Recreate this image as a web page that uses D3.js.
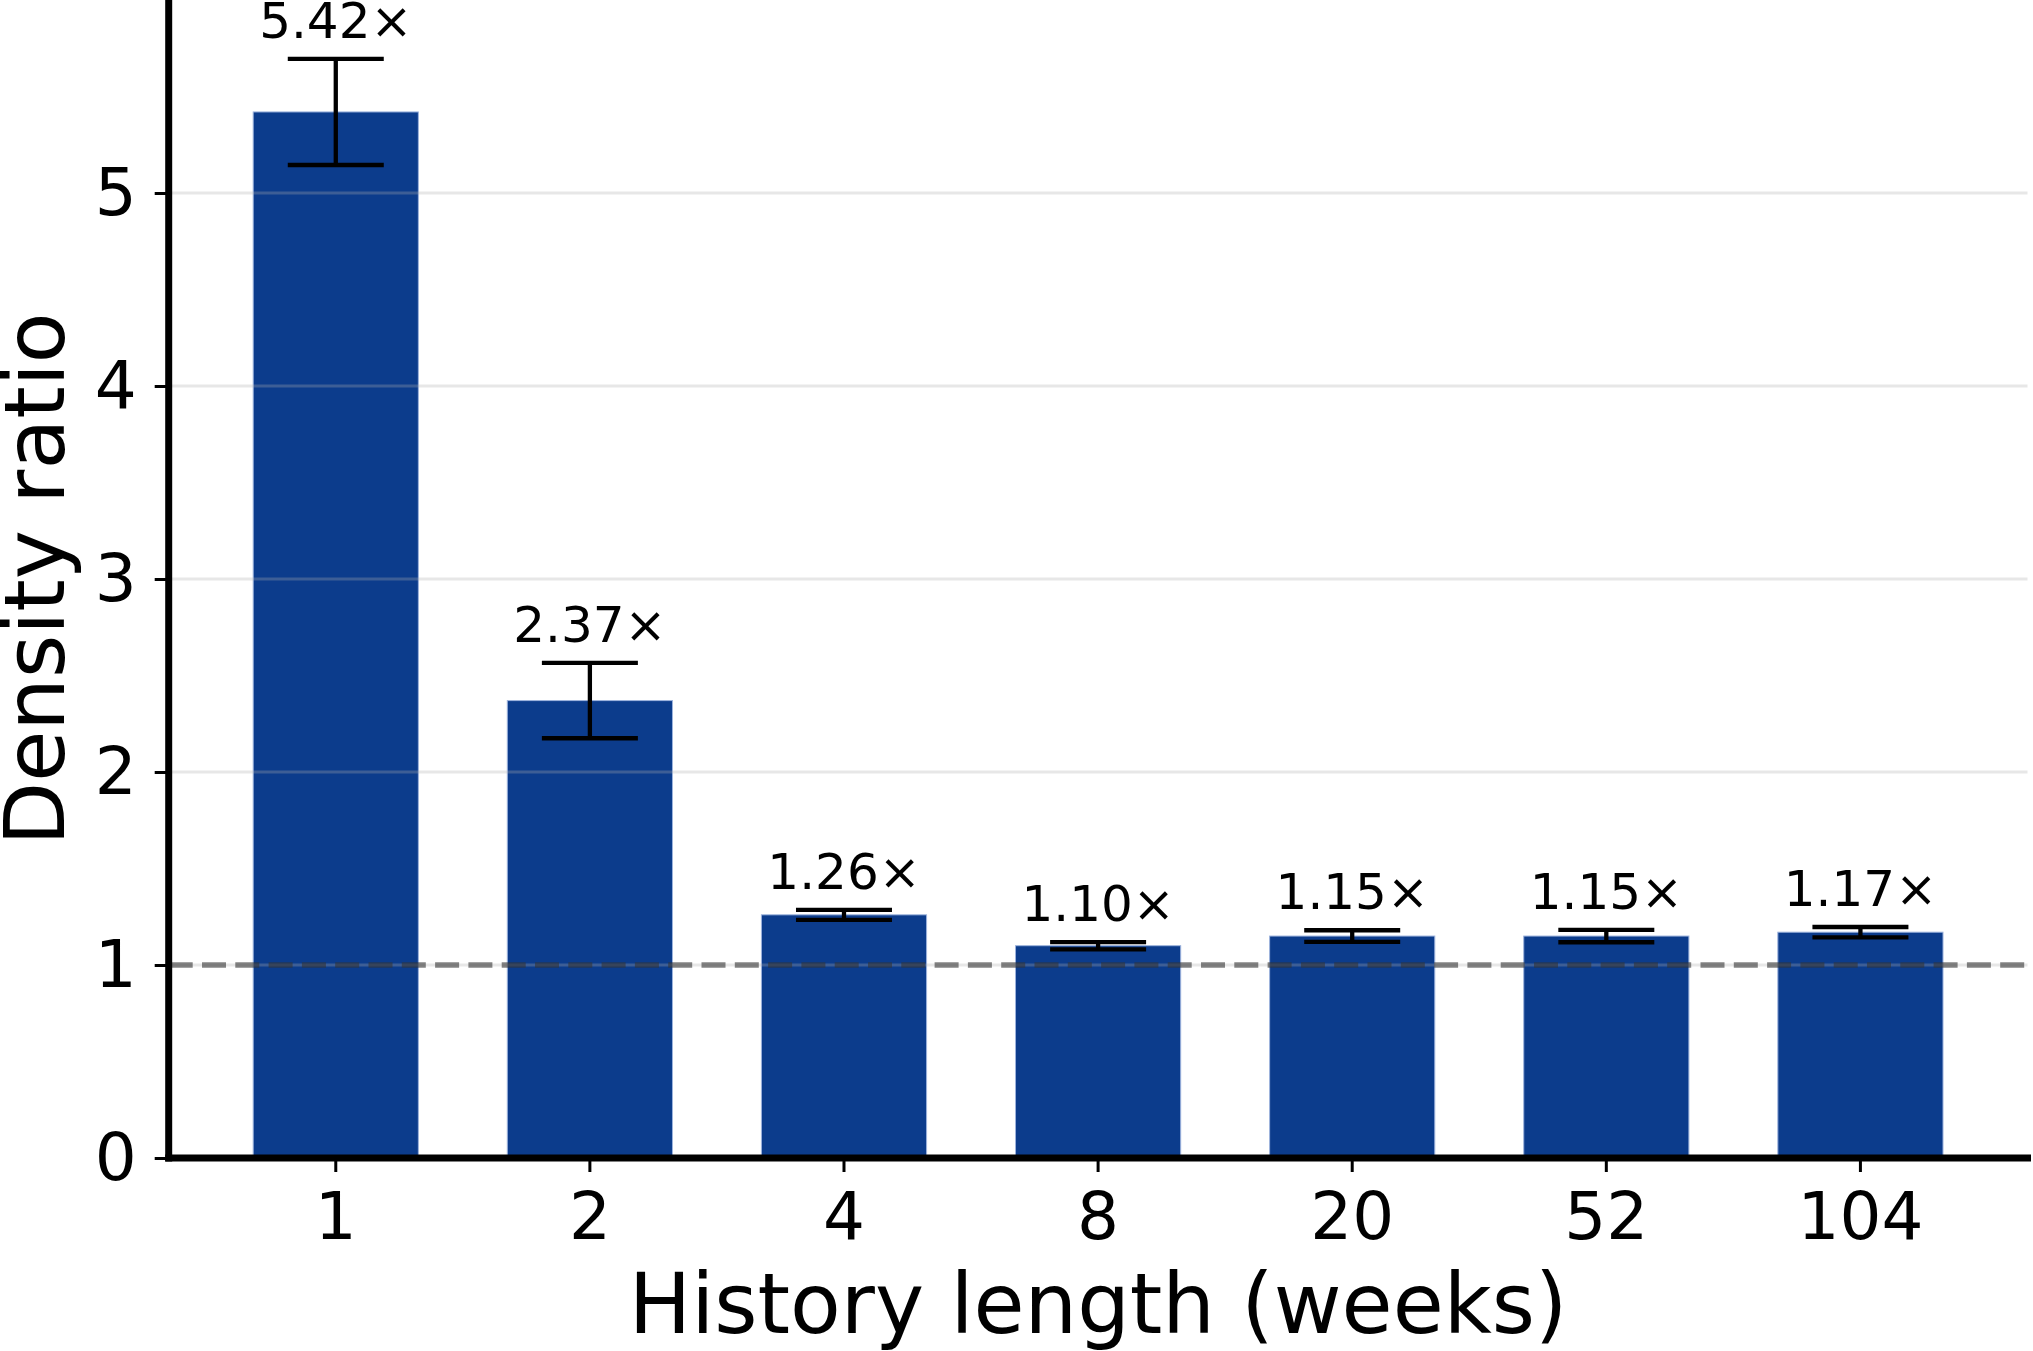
<!DOCTYPE html>
<html>
<head>
<meta charset="utf-8">
<script src="https://cdn.jsdelivr.net/npm/d3@7"></script>
<style>
  body { margin: 0; background: #fff; }
  svg { display: block; font-family: "DejaVu Sans", sans-serif; }
</style>
</head>
<body>
<script>
// history length categories (weeks)
var weeks = ['1', '2', '4', '8', '20', '52', '104'];
// mean density ratio and error half-widths
var ratios = [5.42, 2.37, 1.26, 1.10, 1.15, 1.15, 1.17];
var errors = [0.275, 0.195, 0.026, 0.019, 0.030, 0.032, 0.027];
var yTicks = [0, 1, 2, 3, 4, 5];

var data = weeks.map(function(w, i) {
  return { week: w, ratio: ratios[i], err: errors[i] };
});

var W = 2033, H = 1351;
var plotLeft = 168.7, plotRight = 2027.5, plotBottom = 1158, plotTop = 0;

var svg = d3.select('body').append('svg')
  .attr('width', W)
  .attr('height', H);

var x = d3.scaleBand()
  .domain(weeks)
  .range([plotLeft, plotRight])
  .paddingInner(0.35)
  .paddingOuter(0.3325);

var y = d3.scaleLinear()
  .domain([0, 6])
  .range([plotBottom, plotTop]);

// bars
svg.append('g').selectAll('rect')
  .data(data)
  .enter().append('rect')
  .attr('x', function(d) { return x(d.week); })
  .attr('y', function(d) { return y(d.ratio); })
  .attr('width', x.bandwidth())
  .attr('height', function(d) { return y(0) - y(d.ratio); })
  .attr('fill', '#0c3c8c')
  .attr('stroke', '#9db3dd')
  .attr('stroke-width', 1);

// grid (drawn above the bars, faint)
svg.append('g').selectAll('line')
  .data(yTicks)
  .enter().append('line')
  .attr('x1', plotLeft).attr('x2', plotRight)
  .attr('y1', function(d) { return y(d); })
  .attr('y2', function(d) { return y(d); })
  .attr('stroke', '#b0b0b0')
  .attr('stroke-opacity', 0.3)
  .attr('stroke-width', 3);

// reference line at 1
svg.append('line')
  .attr('x1', plotLeft).attr('x2', plotRight)
  .attr('y1', y(1)).attr('y2', y(1))
  .attr('stroke', '#333')
  .attr('stroke-opacity', 0.6)
  .attr('stroke-width', 5.5)
  .attr('stroke-dasharray', '24,9.3');

// error bars
var eb = svg.append('g').selectAll('g')
  .data(data)
  .enter().append('g')
  .attr('stroke', '#000')
  .attr('stroke-width', 4.3);

var cx = function(d) { return x(d.week) + x.bandwidth() / 2; };
eb.append('line')
  .attr('x1', cx).attr('x2', cx)
  .attr('y1', function(d) { return y(d.ratio - d.err); })
  .attr('y2', function(d) { return y(d.ratio + d.err); });
eb.append('line')
  .attr('x1', function(d) { return cx(d) - 48; })
  .attr('x2', function(d) { return cx(d) + 48; })
  .attr('y1', function(d) { return y(d.ratio + d.err); })
  .attr('y2', function(d) { return y(d.ratio + d.err); });
eb.append('line')
  .attr('x1', function(d) { return cx(d) - 48; })
  .attr('x2', function(d) { return cx(d) + 48; })
  .attr('y1', function(d) { return y(d.ratio - d.err); })
  .attr('y2', function(d) { return y(d.ratio - d.err); });

// value labels
svg.append('g').selectAll('text')
  .data(data)
  .enter().append('text')
  .attr('x', cx)
  .attr('y', function(d) { return y(d.ratio + d.err) - 21; })
  .attr('text-anchor', 'middle')
  .attr('font-size', 50)
  .attr('fill', '#000')
  .text(function(d) { return d.ratio.toFixed(2) + '\u00d7'; });

// axes
var yAxis = svg.append('g')
  .attr('transform', 'translate(' + plotLeft + ',0)')
  .call(d3.axisLeft(y).tickValues(yTicks).tickSize(14).tickPadding(18).tickFormat(d3.format('d')));
var xAxis = svg.append('g')
  .attr('transform', 'translate(0,' + plotBottom + ')')
  .call(d3.axisBottom(x).tickSize(14).tickPadding(20));

[yAxis, xAxis].forEach(function(a) {
  a.select('.domain').remove();
  a.selectAll('.tick line').attr('stroke', '#000').attr('stroke-width', 3);
  a.selectAll('.tick text')
    .attr('font-size', 66)
    .attr('font-family', '"DejaVu Sans", sans-serif')
    .attr('fill', '#000');
});

// spines
svg.append('line')
  .attr('x1', plotLeft).attr('x2', plotLeft)
  .attr('y1', plotTop).attr('y2', plotBottom)
  .attr('stroke', '#000').attr('stroke-width', 7)
  .attr('stroke-linecap', 'square');
svg.append('line')
  .attr('x1', plotLeft).attr('x2', plotRight)
  .attr('y1', plotBottom).attr('y2', plotBottom)
  .attr('stroke', '#000').attr('stroke-width', 7)
  .attr('stroke-linecap', 'square');

// axis titles
svg.append('text')
  .attr('x', (plotLeft + plotRight) / 2)
  .attr('y', 1333)
  .attr('text-anchor', 'middle')
  .attr('font-size', 83)
  .text('History length (weeks)');

svg.append('text')
  .attr('transform', 'translate(64,' + (plotBottom + plotTop) / 2 + ') rotate(-90)')
  .attr('text-anchor', 'middle')
  .attr('font-size', 83)
  .text('Density ratio');
</script>
</body>
</html>
